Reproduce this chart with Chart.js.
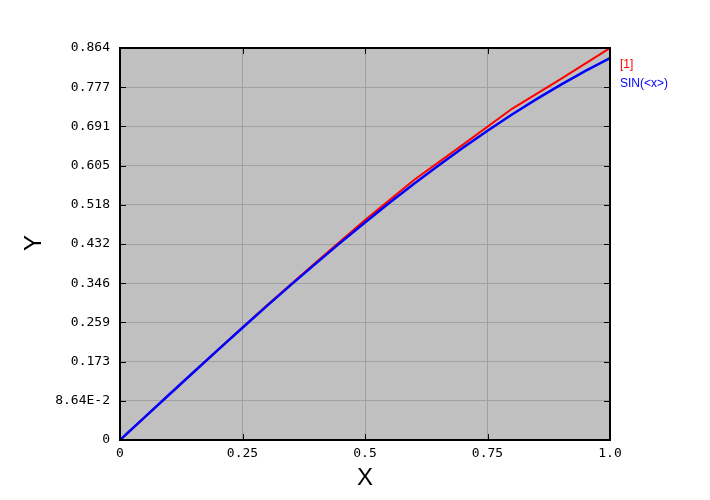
<!DOCTYPE html>
<html>
<head>
<meta charset="utf-8">
<script src="https://cdn.jsdelivr.net/npm/chart.js@4"></script>
<style>
  html, body { margin: 0; padding: 0; background: #fff; }
  #wrap { width: 710px; height: 500px; }
</style>
</head>
<body>
<div id="wrap"><canvas id="chart" width="710" height="500"></canvas></div>
<script>
// === data ===
const xValues = [0, 0.1, 0.2, 0.3, 0.4, 0.5, 0.6, 0.7, 0.8, 0.9, 1.0];
const redValues = [0, 0.0999, 0.199, 0.297, 0.392, 0.485, 0.573, 0.651, 0.730, 0.796, 0.864];

const sinX = [0, 0.05, 0.1, 0.15, 0.2, 0.25, 0.3, 0.35, 0.4, 0.45, 0.5,
              0.55, 0.6, 0.65, 0.7, 0.75, 0.8, 0.85, 0.9, 0.95, 1.0];
const sinValues = [0, 0.0500, 0.0998, 0.1494, 0.1987, 0.2474, 0.2955, 0.3429, 0.3894, 0.4350, 0.4794,
                   0.5227, 0.5646, 0.6052, 0.6442, 0.6816, 0.7174, 0.7513, 0.7833, 0.8134, 0.8415];

const yTickValues = [0, 0.0864, 0.1728, 0.2592, 0.3456, 0.432, 0.5184, 0.6048, 0.6912, 0.7776, 0.864];
const yTickLabels = ['0', '8.64E-2', '0.173', '0.259', '0.346', '0.432', '0.518', '0.605', '0.691', '0.777', '0.864'];
const xTickValues = [0, 0.25, 0.5, 0.75, 1.0];
const xTickLabels = ['0', '0.25', '0.5', '0.75', '1.0'];

const seriesNames = ['[1]', 'SIN(<x>)'];
const seriesColors = ['#ff0000', '#0000ff'];

const toPoints = (xs, ys) => xs.map((x, i) => ({ x: x, y: ys[i] }));

// gray plot area, frame, inward ticks, titles and legend
const framePlugin = {
    id: 'frame',
    beforeDraw(chart) {
        const { ctx, chartArea: a } = chart;
        ctx.save();
        ctx.fillStyle = '#c0c0c0';
        ctx.fillRect(a.left, a.top, a.right - a.left, a.bottom - a.top);
        ctx.restore();
    },
    afterDraw(chart) {
        const { ctx, chartArea: a, scales } = chart;
        ctx.save();
        ctx.strokeStyle = '#000';
        ctx.lineWidth = 2;
        ctx.strokeRect(a.left, a.top, a.right - a.left, a.bottom - a.top);

        // inward tick marks on all four sides
        ctx.lineWidth = 1;
        ctx.beginPath();
        yTickValues.forEach(v => {
            const y = Math.round(scales.y.getPixelForValue(v)) + 0.5;
            ctx.moveTo(a.left, y); ctx.lineTo(a.left + 6, y);
            ctx.moveTo(a.right, y); ctx.lineTo(a.right - 6, y);
        });
        xTickValues.forEach(v => {
            const x = Math.round(scales.x.getPixelForValue(v)) + 0.5;
            ctx.moveTo(x, a.bottom); ctx.lineTo(x, a.bottom - 6);
            ctx.moveTo(x, a.top); ctx.lineTo(x, a.top + 6);
        });
        ctx.stroke();

        // axis titles
        ctx.fillStyle = '#000';
        ctx.font = '24px "Liberation Sans", Arial, sans-serif';
        ctx.textAlign = 'center';
        ctx.textBaseline = 'middle';
        ctx.fillText('X', (a.left + a.right) / 2, 478);
        ctx.translate(34, 243);
        ctx.rotate(-Math.PI / 2);
        ctx.fillText('Y', 0, 0);
        ctx.restore();

        // legend
        ctx.save();
        ctx.font = '12px "Liberation Sans", Arial, sans-serif';
        ctx.textAlign = 'left';
        ctx.textBaseline = 'middle';
        seriesNames.forEach((name, i) => {
            ctx.fillStyle = seriesColors[i];
            ctx.fillText(name, a.right + 10, 65 + i * 19);
        });
        ctx.restore();
    }
};

const tickFont = { family: '"DejaVu Sans Mono", monospace', size: 13 };

new Chart(document.getElementById('chart'), {
    type: 'scatter',
    data: {
        datasets: [
            {
                label: seriesNames[0],
                data: toPoints(xValues, redValues),
                borderColor: seriesColors[0],
                borderWidth: 2,
                showLine: true,
                pointRadius: 0,
                order: 1
            },
            {
                label: seriesNames[1],
                data: toPoints(sinX, sinValues),
                borderColor: seriesColors[1],
                borderWidth: 2.5,
                showLine: true,
                pointRadius: 0,
                order: 0
            }
        ]
    },
    options: {
        responsive: false,
        animation: false,
        layout: { padding: { left: 0, top: 48, right: 100, bottom: 0 } },
        plugins: {
            legend: { display: false },
            tooltip: { enabled: false }
        },
        scales: {
            x: {
                type: 'linear',
                min: 0,
                max: 1,
                afterFit: (scale) => { scale.height = 60; },
                afterBuildTicks: (scale) => { scale.ticks = xTickValues.map(v => ({ value: v })); },
                ticks: {
                    font: tickFont,
                    color: '#000',
                    padding: 6,
                    maxRotation: 0,
                    autoSkip: false,
                    callback: (value) => xTickLabels[xTickValues.indexOf(value)]
                },
                grid: { color: '#a0a0a0', lineWidth: 1, drawTicks: false },
                border: { display: false }
            },
            y: {
                type: 'linear',
                min: 0,
                max: 0.864,
                afterFit: (scale) => { scale.width = 120; },
                afterBuildTicks: (scale) => { scale.ticks = yTickValues.map(v => ({ value: v })); },
                ticks: {
                    font: tickFont,
                    color: '#000',
                    padding: 10,
                    autoSkip: false,
                    callback: (value) => yTickLabels[yTickValues.indexOf(value)]
                },
                grid: { color: '#a0a0a0', lineWidth: 1, drawTicks: false },
                border: { display: false }
            }
        }
    },
    plugins: [framePlugin]
});
</script>
</body>
</html>
